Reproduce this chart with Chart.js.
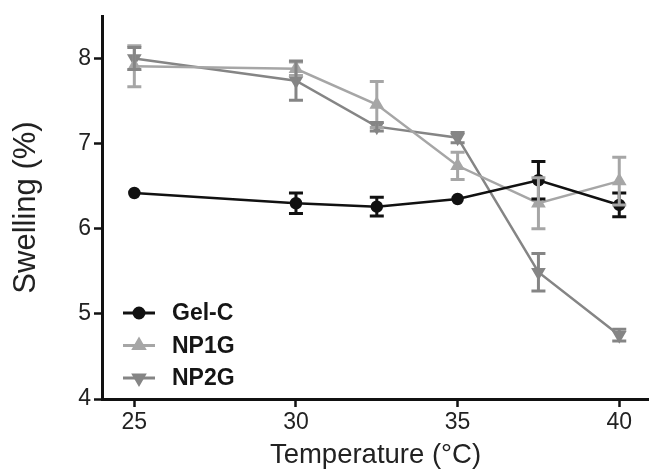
<!DOCTYPE html>
<html><head><meta charset="utf-8">
<script src="https://cdn.jsdelivr.net/npm/chart.js@4"></script>
<style>html,body{margin:0;padding:0;background:#fff;overflow:hidden}canvas{display:block}</style>
</head><body><canvas id="c" width="649" height="472" style="width:649px;height:472px"></canvas>
<script>
const temperatures = [25, 30, 32.5, 35, 37.5, 40];
const gelC = [6.42, 6.30, 6.26, 6.35, 6.57, 6.28];
const gelCErr = [0, 0.12, 0.11, 0, 0.22, 0.14];
const np1g = [7.91, 7.88, 7.46, 6.74, 6.30, 6.56];
const np1gErr = [0.24, 0.08, 0.27, 0.16, 0.30, 0.28];
const np2g = [8.00, 7.74, 7.20, 7.07, 5.49, 4.75];
const np2gErr = [0.13, 0.23, 0.05, 0.06, 0.22, 0.07];
const xTicks = [25, 30, 35, 40];
const yTicks = [4, 5, 6, 7, 8];

const mk = (vals) => temperatures.map((t, i) => ({x: t, y: vals[i]}));
const FONT = "'Liberation Sans', Arial, sans-serif";

const errorBars = {
  id: 'errorBars',
  afterDatasetsDraw(chart) {
    const ctx = chart.ctx, xs = chart.scales.x, ys = chart.scales.y;
    chart.data.datasets.forEach((ds) => {
      const errs = ds.errors;
      ctx.save();
      ctx.strokeStyle = ds.borderColor;
      ctx.lineWidth = 3;
      ds.data.forEach((p, i) => {
        const e = errs[i];
        if (!e) return;
        const px = xs.getPixelForValue(p.x);
        const top = ys.getPixelForValue(p.y + e);
        const bot = ys.getPixelForValue(p.y - e);
        ctx.beginPath();
        ctx.moveTo(px, top); ctx.lineTo(px, bot);
        ctx.moveTo(px - 7, top); ctx.lineTo(px + 7, top);
        ctx.moveTo(px - 7, bot); ctx.lineTo(px + 7, bot);
        ctx.stroke();
      });
      ctx.restore();
    });
  }
};

const legendInside = {
  id: 'legendInside',
  afterDraw(chart) {
    const ctx = chart.ctx;
    const x0 = 123, y0 = 313, gap = 32.5;
    chart.data.datasets.forEach((ds, i) => {
      const y = y0 + i * gap;
      ctx.save();
      ctx.strokeStyle = ds.borderColor;
      ctx.lineWidth = 3;
      ctx.beginPath(); ctx.moveTo(x0, y); ctx.lineTo(x0 + 32, y); ctx.stroke();
      ctx.fillStyle = ds.borderColor;
      Chart.helpers.drawPoint(ctx, {pointStyle: ds.pointStyle, rotation: ds.pointRotation || 0, radius: ds.pointRadius, borderWidth: 1}, x0 + 16, y);
      ctx.fillStyle = '#151515';
      ctx.font = "bold 23px " + FONT;
      ctx.textBaseline = 'middle';
      ctx.fillText(ds.label, 172, y + 1);
      ctx.restore();
    });
  }
};

new Chart(document.getElementById('c'), {
  type: 'line',
  data: {
    datasets: [
      {label: 'Gel-C', data: mk(gelC), errors: gelCErr, borderColor: '#111111', backgroundColor: '#111111',
       pointStyle: 'circle', pointRadius: 5, borderWidth: 2.5},
      {label: 'NP1G', data: mk(np1g), errors: np1gErr, borderColor: '#a6a6a6', backgroundColor: '#a6a6a6',
       pointStyle: 'triangle', pointRadius: 6, borderWidth: 2.5},
      {label: 'NP2G', data: mk(np2g), errors: np2gErr, borderColor: '#858585', backgroundColor: '#858585',
       pointStyle: 'triangle', pointRotation: 180, pointRadius: 6, borderWidth: 2.5}
    ]
  },
  options: {
    responsive: false, animation: false,
    layout: {autoPadding: false, padding: {top: 16, right: 0, left: 0, bottom: 0}},
    plugins: {legend: {display: false}, tooltip: {enabled: false}},
    scales: {
      x: {
        type: 'linear', min: 24, max: 40.92,
        afterBuildTicks: (s) => { s.ticks = xTicks.map(v => ({value: v})); },
        afterFit: (s) => { s.height = 73; s.paddingLeft = 0; s.paddingRight = 0; },
        border: {color: '#111', width: 3},
        grid: {drawOnChartArea: false, drawTicks: true, tickLength: 8, tickWidth: 2.5, tickColor: '#111'},
        ticks: {color: '#222', font: {family: FONT, size: 23}, padding: 2},
        title: {display: true, text: 'Temperature (°C)', color: '#222', font: {family: FONT, size: 27.5, lineHeight: 1.2}, padding: {top: 0, bottom: 0}}
      },
      y: {
        type: 'linear', min: 4, max: 8.5,
        afterBuildTicks: (s) => { s.ticks = yTicks.map(v => ({value: v})); },
        afterFit: (s) => { s.width = 102; s.paddingTop = 0; s.paddingBottom = 0; },
        border: {color: '#111', width: 3},
        grid: {drawOnChartArea: false, drawTicks: true, tickLength: 8, tickWidth: 2.5, tickColor: '#111'},
        ticks: {color: '#222', font: {family: FONT, size: 23}, padding: 3},
        title: {display: true, text: 'Swelling (%)', color: '#222', font: {family: FONT, size: 31, lineHeight: 1.2}, padding: {top: 8, bottom: 0}}
      }
    }
  },
  plugins: [errorBars, legendInside]
});
</script>
</body></html>
